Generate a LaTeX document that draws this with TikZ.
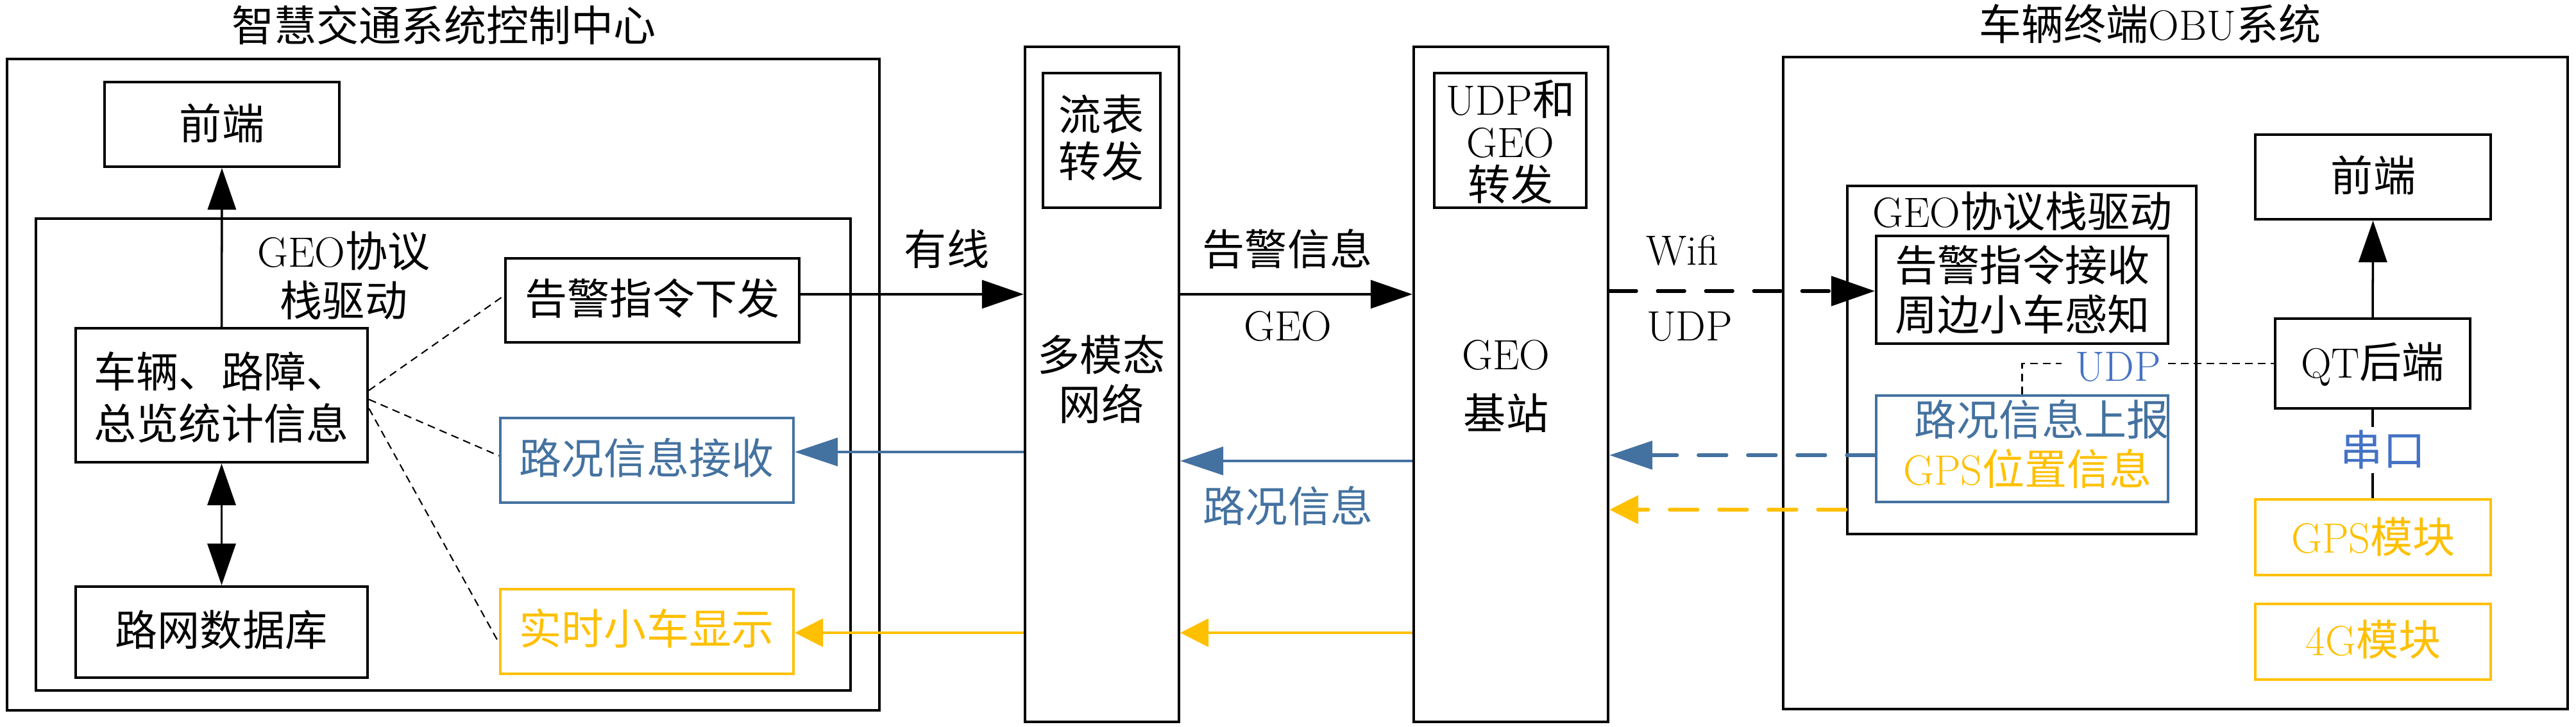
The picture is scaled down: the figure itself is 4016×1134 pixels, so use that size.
\documentclass[tikz,border=0pt]{standalone}
\usepackage{fontspec}
\newfontfamily\cjk{Noto Sans CJK SC}
\usetikzlibrary{arrows.meta,fit,calc}
\definecolor{bluA}{RGB}{68,114,160}
\definecolor{bluB}{RGB}{68,114,196}
\definecolor{yel}{RGB}{255,192,0}
\newcommand\zhtxt[1]{\raisebox{0pt}[17pt][2.8pt]{\cjk #1}}
\newcommand\nodefont{\fontsize{18.8pt}{22pt}\selectfont}
\newcommand\tightfont{\fontsize{18.8pt}{19pt}\selectfont}
\begin{document}
\begin{tikzpicture}[x=0.01cm,y=-0.01cm,
  every node/.style={font=\nodefont, inner sep=0pt},
  box/.style={draw, line width=1.2pt, fit={#1}, inner sep=0pt},
  boxB/.style={draw=bluA, line width=1.2pt, fit={#1}, inner sep=0pt},
  boxY/.style={draw=yel, line width=1.2pt, fit={#1}, inner sep=0pt},
  arrK/.style={line width=1pt, -{Triangle[length=0.65cm,width=0.44cm]}},
  arrKK/.style={line width=1pt, {Triangle[length=0.65cm,width=0.44cm]}-{Triangle[length=0.65cm,width=0.44cm]}},
  arrB/.style={line width=1pt, draw=bluA, -{Triangle[length=0.67cm,width=0.44cm]}},
  arrY/.style={line width=1pt, draw=yel, -{Triangle[length=0.44cm,width=0.44cm]}},
  dashK/.style={line width=1.5pt, line cap=round, dash pattern=on 0.42cm off 0.33cm, -{Triangle[length=0.68cm,width=0.46cm]}},
  dashB/.style={line width=1.5pt, draw=bluA, line cap=round, dash pattern=on 0.44cm off 0.33cm, -{Triangle[length=0.67cm,width=0.44cm]}},
  dashY/.style={line width=1.5pt, draw=yel, line cap=round, dash pattern=on 0.44cm off 0.33cm, -{Triangle[length=0.45cm,width=0.44cm]}},
  thinD/.style={line width=0.6pt, dash pattern=on 0.12cm off 0.08cm},
  thinL/.style={line width=1pt}]
\useasboundingbox (0,0) rectangle (4016,1134);

% titles
\node (t1) at (692,40) {\zhtxt{智慧交通系统控制中心}};
\node (t2) at (3352,38) {\zhtxt{车辆终端}OBU\zhtxt{系统}};

% left system
\node[box={(11,92)(1371,1108)}] (outL) {};
\node[box={(163,128)(529,260)}] (fe1) {};
\node (fe1t) at (346,193) {\zhtxt{前端}};
\node[box={(56,341)(1326,1077)}] (geoL) {};
\node[align=center] (geoLlbl) at (536,430) {GEO\zhtxt{协议}\\\zhtxt{栈驱动}};
\node[box={(118,512)(573,721)}] (veh) {};
\node[align=center] (veht) at (345,620) {\zhtxt{车辆、路障、}\\[0.8pt]\zhtxt{总览统计信息}};
\node[box={(788,403)(1246,534)}] (aSend) {};
\node (aSendt) at (1017,466) {\zhtxt{告警指令下发}};
\node[boxB={(780,652)(1237,784)}] (rRecv) {};
\node[text=bluA] (rRecvt) at (1008,715) {\zhtxt{路况信息接收}};
\node[boxY={(780,919)(1237,1051)}] (rt) {};
\node[text=yel] (rtt) at (1008,981) {\zhtxt{实时小车显示}};
\node[box={(118,915)(573,1057)}] (db) {};
\node (dbt) at (345,983) {\zhtxt{路网数据库}};

% middle
\node[box={(1598,73)(1838,1126)}] (mm) {};
\node[box={(1626,114)(1809,324)}] (flow) {};
\node[align=center, font=\fontsize{18.8pt}{20.8pt}\selectfont] (flowt) at (1717,215) {\zhtxt{流表}\\\zhtxt{转发}};
\node[align=center] (mmlbl) at (1717,592) {\zhtxt{多模态}\\\zhtxt{网络}};
\node[box={(2204,73)(2507,1126)}] (gb) {};
\node[box={(2236,114)(2473,324)}] (ugf) {};
\node[align=center, font=\tightfont] (ugft) at (2355,221) {UDP\zhtxt{和}\\GEO\\\zhtxt{转发}};
\node[align=center] (gblbl) at (2348,605) {GEO\\[4.4pt]\zhtxt{基站}};

% right system
\node[box={(2780,89)(4003,1106)}] (outR) {};
\node[box={(3516,210)(3883,342)}] (fe2) {};
\node (fe2t) at (3700,274) {\zhtxt{前端}};
\node[box={(2880,290)(3424,833)}] (geoR) {};
\node (geoRlbl) at (3153,330) {GEO\zhtxt{协议栈驱动}};
\node[box={(2925,368)(3380,536)}] (aRecv) {};
\node[align=center] (aRecvt) at (3153,452) {\zhtxt{告警指令接收}\\\zhtxt{周边小车感知}};
\node[boxB={(2925,617)(3380,783)}] (rRep) {};
\node[text=bluA] (rRepA) at (3183,655) {\zhtxt{路况信息上报}};
\node[text=yel] (rRepB) at (3161,732) {GPS\zhtxt{位置信息}};
\node[box={(3547,497)(3851,637)}] (qt) {};
\node (qtt) at (3699,566) {QT\zhtxt{后端}};
\node[boxY={(3516,779)(3883,897)}] (gps) {};
\node[text=yel] (gpst) at (3700,838) {GPS\zhtxt{模块}};
\node[boxY={(3516,942)(3883,1060)}] (g4) {};
\node[text=yel] (g4t) at (3700,998) {4G\zhtxt{模块}};
\node[text=bluB] (udpl) at (3302,572) {UDP};
\node[text=bluB] (chk) at (3715,702) {\zhtxt{串口}};

% connector labels
\node (lWired) at (1476,389) {\zhtxt{有线}};
\node (lAlarm) at (2007,389) {\zhtxt{告警信息}};
\node (lGeo) at (2008,509) {GEO};
\node[text=bluA] (lRoad) at (2008,790) {\zhtxt{路况信息}};
\node (lWifi) at (2623,391) {Wifi};
\node (lUdp) at (2634,509) {UDP};

% helper levels
\coordinate (yA) at (0,459);
\coordinate (yB1) at (0,705);
\coordinate (yB2) at (0,719);
\coordinate (yY) at (0,987);
\coordinate (yW) at (0,454);
\coordinate (yBD) at (0,710);
\coordinate (yYD) at (0,795);

% left connectors
\draw[arrK] (veh.north) -- (fe1.south);
\draw[arrKK] (veh.south) -- (db.north);
\draw[thinD] ([yshift=0.075cm]veh.east) -- ([yshift=0.075cm]aSend.west);
\draw[thinD] ([yshift=-0.065cm]veh.east) -- ([yshift=0.07cm]rRecv.west);
\draw[thinD] ([yshift=-0.205cm]veh.east) -- ([yshift=-0.18cm]rt.west);

% main flow
\draw[arrK] (aSend.east |- yA) -- (mm.west |- yA);
\draw[arrK] (mm.east |- yA) -- (gb.west |- yA);
\draw[arrB] (mm.west |- yB1) -- (rRecv.east |- yB1);
\draw[arrB] (gb.west |- yB2) -- (mm.east |- yB2);
\draw[arrY] (mm.west |- yY) -- (rt.east |- yY);
\draw[arrY] (gb.west |- yY) -- (mm.east |- yY);
\draw[dashK] (gb.east |- yW) -- (aRecv.west |- yW);
\draw[dashB] (rRep.west |- yBD) -- (gb.east |- yBD);
\draw[dashY] (geoR.west |- yYD) -- (gb.east |- yYD);

% right connectors
\draw[arrK] (qt.north) -- (fe2.south);
\draw[thinL] (qt.south) -- (qt.south |- chk.north);
\draw[thinL] (chk.south -| qt.south) -- (gps.north -| qt.south);
\coordinate (uL) at ($(udpl.west |- qt.west)+(-20,0)$);
\coordinate (uR) at ($(udpl.east |- qt.west)+(10,0)$);
\draw[thinD] (rRep.north) |- (uL);
\draw[thinD] (uR) -- (qt.west);
\end{tikzpicture}
\end{document}
